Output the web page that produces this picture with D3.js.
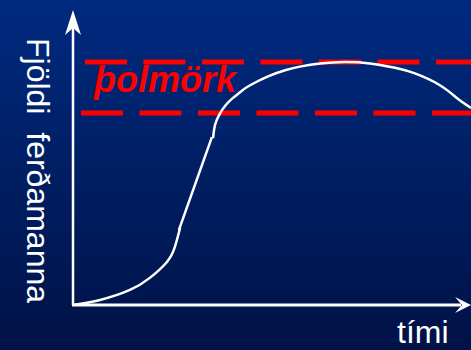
<!DOCTYPE html>
<html>
<head>
<meta charset="utf-8">
<script src="https://cdn.jsdelivr.net/npm/d3@7"></script>
<style>
  html, body { margin: 0; padding: 0; background: #001348; }
  svg { display: block; }
</style>
</head>
<body>
<svg id="chart"></svg>
<script>
// curve pieces (time, visitors)
var growthX = [0, 6.8, 14.3, 19.3, 23.6, 25.6, 26.9];
var growthY = [0, 1.7, 5.1, 9.2, 14.6, 19.7, 26.1];
var steepX = [26.6, 34.9];
var steepY = [25.4, 56.9];
var plateauX = [35.2, 35.7, 36.9, 38.4, 40.2, 42.5, 44.5, 49.0, 53.3, 57.0, 62.1, 68.3, 74.6, 80.9, 85.9, 92.2, 96.7, 100];
var plateauY = [56.6, 61.1, 64.9, 67.8, 70.2, 72.7, 74.5, 77.5, 79.6, 80.8, 81.9, 82.4, 81.9, 80.4, 78.5, 74.5, 69.9, 66.8];
// capacity band (þolmörk)
var limitLevels = [82.4, 65.1];
var limitStart = [3, 2];
var yLabel = "Fjöldi  ferðamanna";
var xLabel = "tími";
var limitLabel = "þolmörk";

var width = 471;
var height = 350;

var x = d3.scaleLinear().domain([0, 100]).range([73, 471]);
var y = d3.scaleLinear().domain([0, 100]).range([305, 10]);

var svg = d3.select("#chart").attr("width", width).attr("height", height);

var grad = svg.append("defs").append("linearGradient")
  .attr("id", "bg").attr("x1", 0).attr("y1", 0).attr("x2", 0).attr("y2", 1);
grad.append("stop").attr("offset", "0%").attr("stop-color", "#002a80");
grad.append("stop").attr("offset", "100%").attr("stop-color", "#001246");
svg.append("rect").attr("width", width).attr("height", height).attr("fill", "url(#bg)");

// dashed limit lines
svg.selectAll(".limit")
  .data(limitLevels)
  .enter()
  .append("line")
  .attr("class", "limit")
  .attr("x1", function (d, i) { return x(limitStart[i]); })
  .attr("x2", x(100))
  .attr("y1", function (d) { return y(d); })
  .attr("y2", function (d) { return y(d); })
  .style("stroke", "#ff0000")
  .style("stroke-width", 5)
  .style("stroke-dasharray", "42,16.5");

svg.append("text")
  .attr("x", 94)
  .attr("y", 92)
  .style("font-family", "'Liberation Sans', Arial, sans-serif")
  .style("font-size", "36px")
  .style("font-weight", "bold")
  .style("font-style", "italic")
  .style("fill", "#ff0000")
  .text(limitLabel);

// axes
var axisG = svg.append("g").style("stroke", "#ffffff").style("fill", "none");
axisG.append("line")
  .attr("x1", x(0)).attr("x2", x(0))
  .attr("y1", y(0)).attr("y2", y(100) + 12)
  .style("stroke-width", 2.5);
axisG.append("line")
  .attr("x1", x(0) - 1).attr("x2", x(100) - 10)
  .attr("y1", y(0)).attr("y2", y(0))
  .style("stroke-width", 3);

var ax = x(0), ay = y(100);
svg.append("path")
  .attr("d", "M" + ax + "," + ay + "L" + (ax + 8) + "," + (ay + 25) +
    "L" + ax + "," + (ay + 18) + "L" + (ax - 8) + "," + (ay + 25) + "Z")
  .style("fill", "#ffffff");
var bx = x(100), by = y(0);
svg.append("path")
  .attr("d", "M" + bx + "," + by + "L" + (bx - 16) + "," + (by - 8) +
    "L" + (bx - 9) + "," + by + "L" + (bx - 16) + "," + (by + 8) + "Z")
  .style("fill", "#ffffff");

// curve
var line = d3.line()
  .x(function (d) { return x(d[0]); })
  .y(function (d) { return y(d[1]); })
  .curve(d3.curveNatural);

[[growthX, growthY], [steepX, steepY], [plateauX, plateauY]].forEach(function (p) {
  svg.append("path")
    .datum(d3.zip(p[0], p[1]))
    .attr("d", line)
    .style("fill", "none")
    .style("stroke", "#ffffff")
    .style("stroke-width", 2.5)
    .style("stroke-linejoin", "round");
});

// labels
svg.append("text")
  .attr("transform", "translate(27,38) rotate(90)")
  .style("font-family", "'Liberation Sans', Arial, sans-serif")
  .style("font-size", "32px")
  .style("fill", "#ffffff")
  .style("white-space", "pre")
  .attr("xml:space", "preserve")
  .text(yLabel);

svg.append("text")
  .attr("x", 397)
  .attr("y", 343)
  .style("font-family", "'Liberation Sans', Arial, sans-serif")
  .style("font-size", "32px")
  .style("fill", "#ffffff")
  .text(xLabel);
</script>
</body>
</html>
